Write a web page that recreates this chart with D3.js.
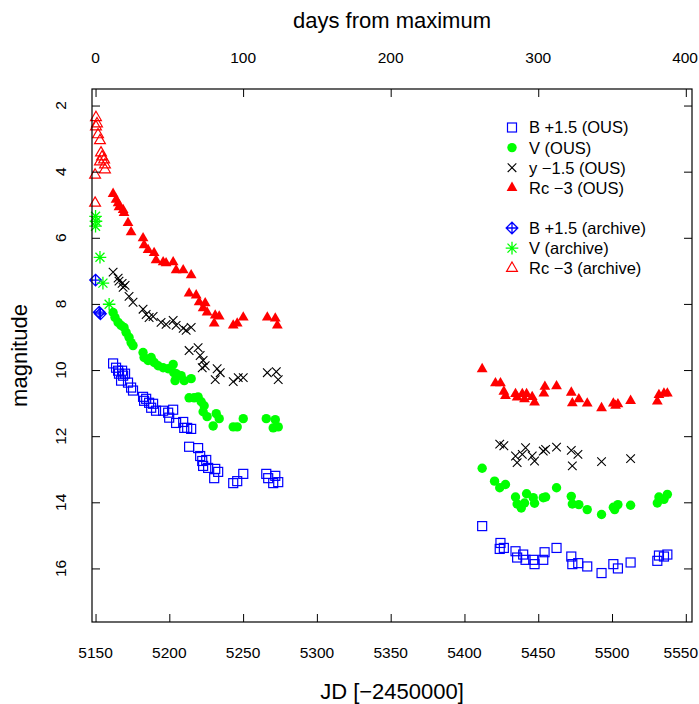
<!DOCTYPE html>
<html>
<head>
<meta charset="utf-8">
<script src="https://cdn.jsdelivr.net/npm/d3@7"></script>
<style>
  body { margin: 0; background: #fff; }
  text { font-family: "Liberation Sans", Arial, sans-serif; }
</style>
</head>
<body>
<div id="chart"></div>
<script>
// ---- data: [JD - 2450000, magnitude] ----
const bOus = [
  [5161.9,9.80],[5163.9,9.93],[5165.3,10.02],[5165.9,10.11],[5168.0,10.02],[5168.7,10.17],[5170.0,10.11],
  [5167.3,10.32],[5172.0,10.38],[5174.1,10.53],[5175.4,10.62],[5182.2,10.81],[5182.9,10.93],[5184.3,10.87],
  [5186.3,10.99],[5189.0,11.02],[5187.7,11.14],[5191.0,11.23],[5195.8,11.23],[5199.2,11.29],[5202.6,11.20],
  [5199.9,11.44],[5204.6,11.60],[5209.4,11.57],[5210.1,11.75],[5212.1,11.75],[5214.8,11.78],[5213.4,12.32],
  [5219.5,12.36],[5220.9,12.60],[5222.3,12.75],[5225.0,12.72],[5222.9,12.90],[5226.3,12.96],[5231.1,12.99],
  [5233.1,13.08],[5230.4,13.27],[5243.3,13.42],[5246.0,13.36],[5250.1,13.14],[5265.7,13.14],[5267.0,13.27],
  [5271.8,13.20],[5270.4,13.42],[5273.8,13.39],
  [5412.0,14.72],[5424.4,15.23],[5423.9,15.41],[5426.7,15.38],[5434.6,15.48],[5435.7,15.67],[5439.8,15.58],
  [5441.4,15.74],[5446.6,15.74],[5447.5,15.87],[5454.3,15.51],[5453.4,15.74],[5462.4,15.38],[5472.4,15.64],
  [5473.1,15.87],[5477.1,15.84],[5483.2,15.94],[5492.9,16.14],[5500.9,15.87],[5504.0,16.00],[5512.6,15.82],
  [5530.7,15.77],[5531.8,15.61],[5535.2,15.64],[5537.5,15.58]
];
const vOus = [
  [5161.9,8.26],[5163.2,8.41],[5165.3,8.56],[5167.3,8.65],[5169.3,8.71],[5170.7,8.86],[5172.7,9.01],
  [5174.1,9.17],[5175.4,9.26],[5182.2,9.47],[5182.9,9.62],[5185.6,9.71],[5187.7,9.62],[5189.7,9.77],
  [5192.4,9.87],[5195.8,9.93],[5199.2,9.96],[5202.6,9.83],[5203.0,10.08],[5204.6,10.11],[5208.0,10.17],
  [5210.1,10.32],[5214.8,10.26],[5203.9,10.32],[5213.4,10.84],[5216.8,10.84],[5219.5,10.81],[5221.6,10.96],
  [5223.6,11.08],[5222.9,11.26],[5225.6,11.41],[5231.8,11.32],[5233.8,11.47],[5229.7,11.69],[5243.3,11.72],
  [5246.0,11.72],[5250.1,11.47],[5265.7,11.47],[5271.8,11.50],[5270.4,11.75],[5273.8,11.72],
  [5412.0,12.97],[5420.4,13.36],[5423.9,13.56],[5427.8,13.46],[5434.6,13.84],[5435.7,14.05],[5438.5,14.17],
  [5440.7,14.02],[5442.1,13.74],[5446.6,13.86],[5447.5,14.03],[5453.4,13.86],[5455.0,13.84],[5462.4,13.56],
  [5472.4,13.82],[5473.1,14.05],[5477.5,14.07],[5483.2,14.22],[5492.9,14.37],[5500.9,14.15],[5501.8,14.22],
  [5504.0,14.07],[5512.6,14.09],[5530.7,14.02],[5531.8,13.84],[5535.2,13.91],[5537.5,13.76]
];
const yOus = [
  [5161.9,7.04],[5165.3,7.22],[5165.9,7.31],[5168.0,7.38],[5168.7,7.50],[5170.0,7.44],[5172.7,7.77],
  [5175.4,7.95],[5182.2,8.16],[5184.3,8.32],[5186.3,8.41],[5189.0,8.38],[5194.4,8.56],[5197.8,8.62],
  [5202.6,8.50],[5204.6,8.65],[5209.4,8.74],[5211.4,8.80],[5214.8,8.71],[5213.4,9.41],[5219.5,9.32],
  [5220.9,9.56],[5222.9,9.71],[5222.3,9.93],[5224.3,9.87],[5232.4,9.96],[5234.5,10.08],[5231.1,10.29],
  [5243.3,10.35],[5246.7,10.23],[5250.1,10.23],[5266.4,10.08],[5272.5,10.05],[5273.8,10.29],
  [5423.9,12.24],[5426.7,12.29],[5434.6,12.60],[5435.7,12.80],[5439.2,12.55],[5441.4,12.35],[5445.9,12.60],
  [5447.5,12.75],[5453.4,12.45],[5455.0,12.40],[5462.4,12.33],[5472.4,12.43],[5476.9,12.55],[5473.1,12.90],
  [5492.9,12.77],[5512.6,12.68]
];
const rOus = [
  [5161.9,4.67],[5163.9,4.85],[5165.3,4.95],[5165.9,5.07],[5168.7,5.16],[5169.3,5.25],[5172.0,5.55],
  [5174.1,5.83],[5182.2,6.01],[5182.9,6.22],[5185.6,6.37],[5189.7,6.46],[5191.0,6.68],[5195.8,6.74],
  [5197.8,6.77],[5202.6,6.74],[5204.6,6.98],[5209.4,6.98],[5214.8,7.13],[5213.4,7.68],[5218.2,7.74],
  [5220.2,7.95],[5222.9,8.13],[5224.3,7.98],[5225.6,8.26],[5231.1,8.35],[5233.8,8.38],[5230.4,8.59],
  [5243.3,8.65],[5246.0,8.59],[5250.1,8.41],[5266.4,8.41],[5271.8,8.44],[5273.2,8.65],
  [5412.0,9.97],[5421.0,10.40],[5424.4,10.40],[5426.7,10.65],[5427.8,10.78],[5434.6,10.72],[5435.7,10.83],
  [5439.2,10.72],[5440.7,10.88],[5442.1,10.72],[5445.9,10.81],[5447.5,10.98],[5453.8,10.71],[5454.5,10.50],
  [5462.4,10.49],[5472.4,10.68],[5473.1,11.00],[5477.5,10.88],[5483.2,11.01],[5492.9,11.15],[5500.9,11.01],
  [5502.4,11.08],[5504.0,11.03],[5512.6,10.93],[5530.7,10.95],[5531.8,10.75],[5535.2,10.71],[5537.5,10.71]
];
const bArch = [[5150.0,7.28],[5152.5,8.25],[5153.3,8.30]];
const vArch = [[5150.0,5.35],[5150.3,5.50],[5150.0,5.65],[5153.0,6.59],[5155.0,7.37],[5159.2,8.01]];
const rArch = [
  [5150.3,2.36],[5151.0,2.55],[5150.3,2.64],[5151.7,2.88],[5153.0,3.06],[5153.7,3.43],[5154.4,3.55],
  [5153.0,3.70],[5155.8,3.64],[5156.4,3.79],[5156.4,3.94],[5149.7,4.10],[5149.7,4.95]
];
const jdTicks = [5150, 5200, 5250, 5300, 5350, 5400, 5450, 5500, 5550];
const dayTicks = [0, 100, 200, 300, 400];
const magTicks = [2, 4, 6, 8, 10, 12, 14, 16];
const tMax = 5150;
const legendLabels = ["B +1.5 (OUS)", "V (OUS)", "y \u22121.5 (OUS)", "Rc \u22123 (OUS)",
  "B +1.5 (archive)", "V (archive)", "Rc \u22123 (archive)"];

const W = 699, H = 704;
const box = {left: 92, right: 692, top: 89, bottom: 622};

const svg = d3.select("#chart").append("svg")
  .attr("width", W).attr("height", H);

const x = d3.scaleLinear().domain([5147.6, 5554.2]).range([box.left, box.right]);
const y = d3.scaleLinear().domain([1.5, 17.62]).range([box.top, box.bottom]);
const xTop = d3.scaleLinear().domain([5147.6 - tMax, 5554.2 - tMax]).range([box.left, box.right]);

// marker drawers (R-like pch shapes)
const markers = {
  square: (g) => g.append("rect").attr("x", -4.5).attr("y", -4.5).attr("width", 9).attr("height", 9)
    .attr("fill", "none").attr("stroke", "#0000ff").attr("stroke-width", 1.2),
  dot: (g) => g.append("circle").attr("r", 4.7).attr("fill", "#00ff00"),
  cross: (g) => g.append("path").attr("d", "M-4.3,-4.3L4.3,4.3M-4.3,4.3L4.3,-4.3")
    .attr("stroke", "#000").attr("stroke-width", 1.1),
  triFill: (g) => g.append("path").attr("d", "M0,-6.2L5.4,3.1L-5.4,3.1Z").attr("fill", "#ff0000"),
  diamondPlus: (g) => g.append("path").attr("d", "M0,-5.8L5.8,0L0,5.8L-5.8,0ZM0,-5.8V5.8M-5.8,0H5.8")
    .attr("fill", "none").attr("stroke", "#0000ff").attr("stroke-width", 1.3),
  asterisk: (g) => g.append("path").attr("d", "M0,-6.3V6.3M-6.3,0H6.3M-4.5,-4.5L4.5,4.5M-4.5,4.5L4.5,-4.5")
    .attr("stroke", "#00ff00").attr("stroke-width", 1.3),
  triOpen: (g) => g.append("path").attr("d", "M0,-6.2L5.4,3.1L-5.4,3.1Z")
    .attr("fill", "none").attr("stroke", "#ff0000").attr("stroke-width", 1.2)
};

const series = [
  {data: bOus, shape: "square"},
  {data: vOus, shape: "dot"},
  {data: yOus, shape: "cross"},
  {data: rOus, shape: "triFill"},
  {data: bArch, shape: "diamondPlus"},
  {data: vArch, shape: "asterisk"},
  {data: rArch, shape: "triOpen"}
];

series.forEach(s => {
  svg.append("g").selectAll("g").data(s.data).join("g")
    .attr("transform", d => "translate(" + x(d[0]) + "," + y(d[1]) + ")")
    .each(function () { markers[s.shape](d3.select(this)); });
});

// axes, ticks pointing inward
const tickLen = 8;
const tickFont = "15.5px";
const styleAxis = (g) => {
  g.select(".domain").remove();
  g.selectAll("line").attr("stroke", "#000");
};

// keep the outermost labels inside the page, as in the original
const fitLabel = function (px) {
  const w = this.getComputedTextLength();
  d3.select(this).attr("x", Math.min(px, W - 1 - w / 2));
};

svg.append("g").attr("transform", "translate(0," + box.bottom + ")")
  .call(d3.axisTop(x).tickValues(jdTicks).tickSize(tickLen).tickFormat(""))
  .call(styleAxis);
svg.append("g").selectAll("text").data(jdTicks).join("text")
  .attr("y", 658).attr("text-anchor", "middle")
  .style("font-size", tickFont).text(d => d)
  .each(function (d) { fitLabel.call(this, x(d)); });

svg.append("g").attr("transform", "translate(0," + box.top + ")")
  .call(d3.axisBottom(xTop).tickValues(dayTicks).tickSize(tickLen).tickFormat(""))
  .call(styleAxis);
svg.append("g").selectAll("text").data(dayTicks).join("text")
  .attr("y", 63).attr("text-anchor", "middle")
  .style("font-size", tickFont).text(d => d)
  .each(function (d) { fitLabel.call(this, xTop(d)); });

svg.append("g").attr("transform", "translate(" + box.left + ",0)")
  .call(d3.axisRight(y).tickValues(magTicks).tickSize(tickLen).tickFormat(""))
  .call(styleAxis);
svg.append("g").attr("transform", "translate(" + box.right + ",0)")
  .call(d3.axisLeft(y).tickValues(magTicks).tickSize(tickLen).tickFormat(""))
  .call(styleAxis);
svg.append("g").selectAll("text").data(magTicks).join("text")
  .attr("transform", d => "translate(66," + y(d) + ") rotate(-90)")
  .attr("text-anchor", "middle")
  .style("font-size", tickFont).text(d => d);

svg.append("rect")
  .attr("x", box.left).attr("y", box.top)
  .attr("width", box.right - box.left).attr("height", box.bottom - box.top)
  .attr("fill", "none").attr("stroke", "#000").attr("stroke-width", 1.2);

// titles
const midX = (box.left + box.right) / 2;
svg.append("text").attr("x", midX).attr("y", 699).attr("text-anchor", "middle")
  .style("font-size", "22px").text("JD [\u22122450000]");
svg.append("text").attr("x", midX).attr("y", 28).attr("text-anchor", "middle")
  .style("font-size", "22px").text("days from maximum");
svg.append("text")
  .attr("transform", "translate(27," + ((box.top + box.bottom) / 2) + ") rotate(-90)")
  .attr("text-anchor", "middle")
  .style("font-size", "22px").text("magnitude");

// legend
const legendRows = [0, 1, 2, 3, 5, 6, 7];
const legend = svg.append("g");
series.forEach((s, i) => {
  const yy = 127.5 + legendRows[i] * 20.1;
  const g = legend.append("g").attr("transform", "translate(512," + yy + ")");
  markers[s.shape](g);
  legend.append("text").attr("x", 529).attr("y", yy).attr("dy", "0.36em")
    .style("font-size", "16.5px").text(legendLabels[i]);
});
</script>
</body>
</html>
